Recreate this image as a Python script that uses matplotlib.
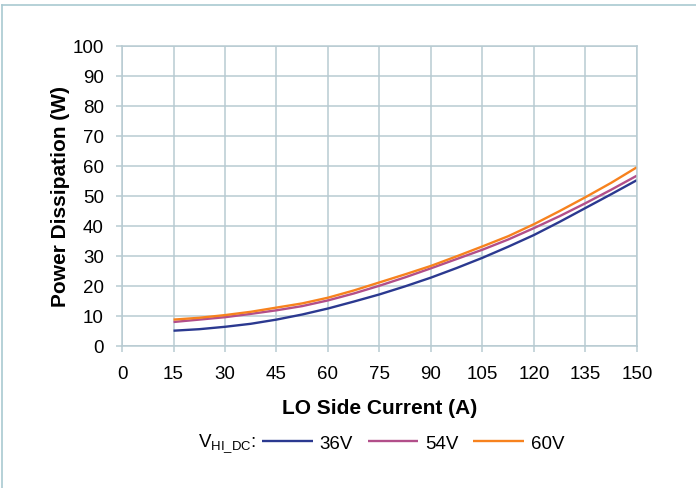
import numpy as np
import matplotlib.pyplot as plt
from matplotlib.lines import Line2D

plt.rcParams['font.family'] = ['Liberation Sans', 'DejaVu Sans']

# LO side current (A) and power dissipation (W)
current = [15, 22.5, 30, 37.5, 45, 52.5, 60, 67.5, 75, 82.5,
           90, 97.5, 105, 112.5, 120, 127.5, 135, 142.5, 150]
p_36v = [5.1, 5.6, 6.4, 7.4, 8.8, 10.5, 12.5, 14.8, 17.2, 19.9,
         22.8, 26.0, 29.4, 33.1, 37.0, 41.4, 46.0, 50.6, 55.3]
p_54v = [8.0, 8.8, 9.6, 10.7, 11.9, 13.3, 15.2, 17.5, 20.1, 22.9,
         25.9, 29.0, 32.1, 35.5, 39.3, 43.3, 47.6, 52.1, 56.8]
p_60v = [8.8, 9.4, 10.3, 11.4, 12.8, 14.2, 16.1, 18.5, 21.2, 23.9,
         26.7, 29.9, 33.2, 36.6, 40.6, 45.0, 49.6, 54.4, 59.6]

labels = ['36V', '54V', '60V']
colors = ['#2b3990', '#b24f8a', '#f7821e']
grid_col = '#b8cbd2'

fig = plt.figure(figsize=(6.96, 4.89), dpi=100)
ax = fig.add_axes([0.1753, 0.2904, 0.7399, 0.6135])

for y, lab, c in zip([p_36v, p_54v, p_60v], labels, colors):
    ax.plot(current, y, color=c, lw=1.7, label=lab, solid_capstyle='butt')

ax.set_xlim(0, 150)
ax.set_ylim(0, 100)
ax.set_xticks(np.arange(0, 151, 15))
ax.set_yticks(np.arange(0, 101, 10))
ax.grid(True, color=grid_col, lw=1.1)
ax.set_axisbelow(True)
for s in ax.spines.values():
    s.set_color(grid_col)
    s.set_linewidth(1.1)
ax.tick_params(colors=grid_col, labelcolor='black', labelsize=13.5,
               length=4, width=1.1)
ax.tick_params(axis='x', pad=10)
ax.tick_params(axis='y', pad=9)

ax.set_xlabel('LO Side Current (A)', fontsize=15, fontweight='bold', labelpad=11)
ax.set_ylabel('Power Dissipation (W)', fontsize=15, fontweight='bold', labelpad=2)

# legend row at the bottom
fig.text(0.285, 0.092, r'V$_{\mathregular{HI\_DC}}$:', fontsize=13.5,
         ha='left', va='center')
leg = fig.legend(loc='center left', bbox_to_anchor=(0.366, 0.092), ncol=3,
                 frameon=False, fontsize=13.5, handlelength=2.7,
                 handletextpad=0.35, columnspacing=0.8, borderaxespad=0)

# thin frame on the top and left edges
fig.add_artist(Line2D([0.003, 1.0], [0.988, 0.988], color='#a9c9d1', lw=1.2))
fig.add_artist(Line2D([0.003, 0.003], [0.0, 0.988], color='#a9c9d1', lw=1.2))

fig.savefig('out.png', dpi=100)
